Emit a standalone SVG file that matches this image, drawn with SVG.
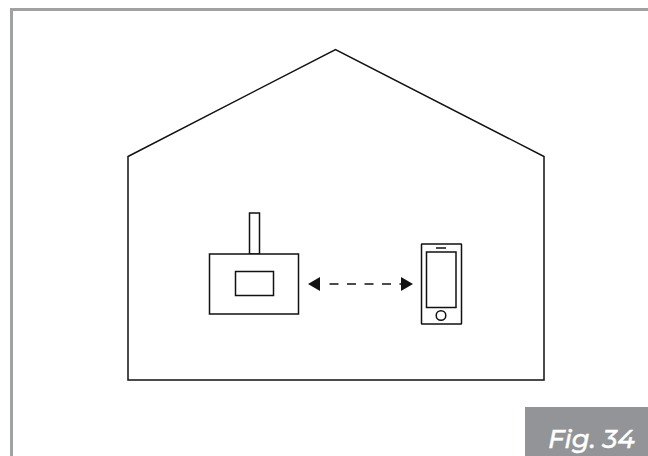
<svg xmlns="http://www.w3.org/2000/svg" width="648" height="456" viewBox="0 0 648 456">
<style>
.l{fill:none;stroke:#111;stroke-width:1.500}
.w{fill:#fff;stroke:#111;stroke-width:1.500}
.f{fill:#111}
</style>
<rect width="648" height="456" fill="#fff"/>
<path d="M11.500 456V9.500H648" fill="none" stroke="#a0a1a3" stroke-width="3"/>
<g id="house"><path class="l" d="M128 156.500 335.500 49.500 544 156.500V380H128Z"/></g>
<g id="controller">
<rect class="w" x="249.500" y="213" width="10" height="41"/>
<rect class="w" x="209.500" y="254" width="89" height="60"/>
<rect class="w" x="235.500" y="271.500" width="38" height="24"/>
</g>
<g id="phone">
<rect class="w" x="421.500" y="244" width="40" height="80" rx="0.500"/>
<rect class="w" x="426.500" y="252" width="29.500" height="55.500"/>
<path class="l" d="M436 248H446"/>
<circle class="w" cx="441" cy="315.500" r="4.800"/>
</g>
<g id="connectors">
<path d="M329.500 284H402" fill="none" stroke="#111" stroke-width="1.500" stroke-dasharray="9 8.500"/>
<path class="f" d="M308 284 320 277V291Z"/>
<path class="f" d="M413 284 401 277V291Z"/>
</g>
<g id="figure-label">
<rect x="525" y="407" width="123" height="49" fill="#929497"/>
<text x="548" y="447.500" font-family="Montserrat,'Open Sans','Noto Sans',sans-serif" font-style="italic" font-weight="500" font-size="26" fill="#fff" stroke="#fff" stroke-width="0.400">Fig. 34</text>
</g>
</svg>
